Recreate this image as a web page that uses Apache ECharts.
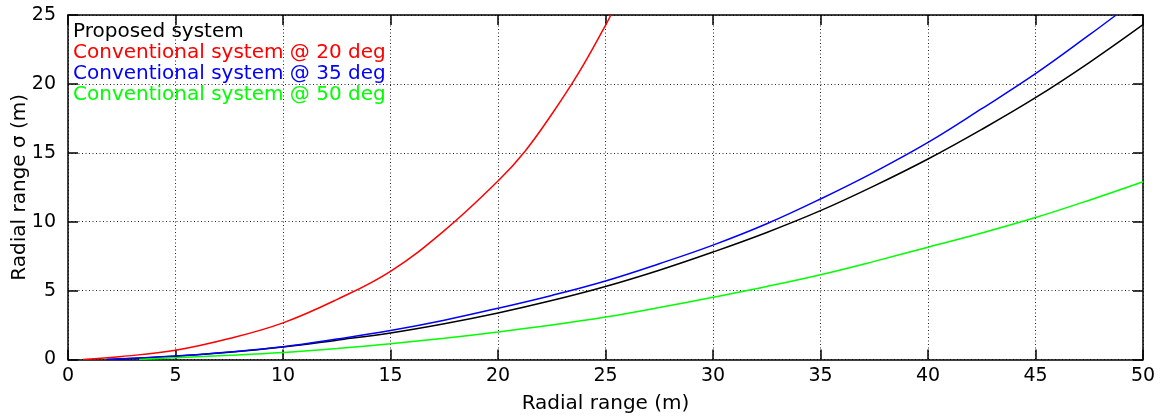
<!DOCTYPE html>
<html>
<head>
<meta charset="utf-8">
<script src="https://cdn.jsdelivr.net/npm/echarts@6/dist/echarts.min.js"></script>
<style>
  html, body { margin: 0; padding: 0; background: #fff; }
  #chart { width: 1165px; height: 417px; }
</style>
</head>
<body>
<div id="chart"></div>
<script>
// Radial range sigma (m) versus radial range (m), as [range, sigma] pairs
const proposedSystem = [
  [1.8, 0], [5, 0.24], [7.5, 0.52], [10, 0.9], [12.5, 1.4], [15, 1.93], [17.5, 2.6],
  [20, 3.38], [22.5, 4.28], [25, 5.3], [27.5, 6.48], [30, 7.8], [32.5, 9.22],
  [35, 10.8], [37.5, 12.6], [40, 14.55], [42.5, 16.7], [45, 19.0], [47.5, 21.55], [50, 24.3]
];
const conventional20 = [
  [0.7, 0], [2.5, 0.22], [5, 0.67], [7.5, 1.52], [10, 2.66], [12.5, 4.35], [15, 6.4],
  [17.5, 9.35], [20, 12.95], [21.25, 15.1], [22.5, 17.8], [23.75, 20.8], [25, 24.25], [25.25, 25.0]
];
const conventional35 = [
  [1.8, 0], [5, 0.25], [7.5, 0.55], [10, 0.93], [12.5, 1.48], [15, 2.1], [17.5, 2.85],
  [20, 3.72], [22.5, 4.65], [25, 5.7], [27.5, 6.95], [30, 8.3], [32.5, 9.85],
  [35, 11.65], [37.5, 13.6], [40, 15.75], [42.5, 18.2], [45, 20.74], [47.5, 23.55], [48.75, 25.0]
];
const conventional50 = [
  [3.3, 0], [5, 0.13], [7.5, 0.3], [10, 0.51], [12.5, 0.8], [15, 1.15], [17.5, 1.55],
  [20, 2.0], [22.5, 2.5], [25, 3.08], [27.5, 3.77], [30, 4.52], [32.5, 5.3],
  [35, 6.15], [37.5, 7.12], [40, 8.15], [42.5, 9.18], [45, 10.3], [47.5, 11.56], [50, 12.9]
];

const seriesNames = [
  'Proposed system',
  'Conventional system @ 20 deg',
  'Conventional system @ 35 deg',
  'Conventional system @ 50 deg'
];
const seriesColors = ['#000000', '#ff0000', '#0000ff', '#00ff00'];
const seriesData = [proposedSystem, conventional20, conventional35, conventional50];

const xTicks = { min: 0, max: 50, interval: 5 };
const yTicks = { min: 0, max: 25, interval: 5 };

const FONT = 'DejaVu Sans';

const frameLine = { show: true, onZero: false, lineStyle: { color: '#000', width: 1.5 } };
const innerTick = { show: true, inside: true, length: 10, lineStyle: { color: '#000', width: 1.5 } };
const dottedGrid = { show: true, lineStyle: { color: '#000', width: 1, type: [1, 2.5], opacity: 0.85 } };

const chart = echarts.init(document.getElementById('chart'), null, { renderer: 'canvas' });

chart.setOption({
  backgroundColor: '#fff',
  animation: false,
  textStyle: { fontFamily: FONT },
  grid: { left: 68, right: 22, top: 15, bottom: 57.5, containLabel: false, outerBoundsMode: 'none' },
  legend: {
    left: 63,
    top: 16,
    orient: 'vertical',
    icon: 'rect',
    itemWidth: 0,
    itemHeight: 21,
    itemGap: 0,
    selectedMode: false,
    textStyle: { fontFamily: FONT, fontSize: 20, lineHeight: 21 },
    data: seriesNames.map((n, i) => ({ name: n, textStyle: { color: seriesColors[i] } }))
  },
  xAxis: [
    {
      type: 'value', position: 'bottom',
      min: xTicks.min, max: xTicks.max, interval: xTicks.interval,
      name: 'Radial range (m)', nameLocation: 'middle', nameGap: 34, nameMoveOverlap: false,
      nameTextStyle: { fontFamily: FONT, fontSize: 20, color: '#000' },
      axisLine: frameLine, axisTick: innerTick,
      axisLabel: { color: '#000', fontFamily: FONT, fontSize: 19, margin: 7 },
      splitLine: dottedGrid
    },
    {
      type: 'value', position: 'top',
      min: xTicks.min, max: xTicks.max, interval: xTicks.interval,
      axisLine: frameLine, axisTick: innerTick,
      axisLabel: { show: false }, splitLine: { show: false }
    }
  ],
  yAxis: [
    {
      type: 'value', position: 'left',
      min: yTicks.min, max: yTicks.max, interval: yTicks.interval,
      name: 'Radial range σ (m)', nameLocation: 'middle', nameGap: 38, nameMoveOverlap: false,
      nameTextStyle: { fontFamily: FONT, fontSize: 20, color: '#000' },
      axisLine: frameLine, axisTick: innerTick,
      axisLabel: { color: '#000', fontFamily: FONT, fontSize: 19, margin: 12 },
      splitLine: dottedGrid
    },
    {
      type: 'value', position: 'right',
      min: yTicks.min, max: yTicks.max, interval: yTicks.interval,
      axisLine: frameLine, axisTick: innerTick,
      axisLabel: { show: false }, splitLine: { show: false }
    }
  ],
  series: seriesNames.map((name, i) => ({
    name: name,
    type: 'line',
    xAxisIndex: 0,
    yAxisIndex: 0,
    data: seriesData[i],
    smooth: 0.4,
    showSymbol: false,
    symbol: 'none',
    clip: true,
    color: seriesColors[i],
    lineStyle: { color: seriesColors[i], width: 1.5 }
  }))
});
</script>
</body>
</html>
